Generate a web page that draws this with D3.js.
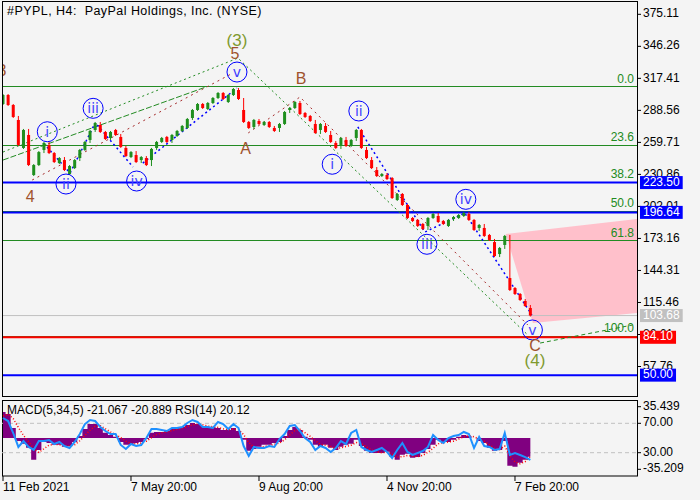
<!DOCTYPE html>
<html>
<head>
<meta charset="utf-8">
<script src="https://cdn.jsdelivr.net/npm/d3@7"></script>
<style>
  body { margin: 0; background: #f4f4f4; }
  svg { display: block; font-family: "Liberation Sans", Arial, sans-serif; }
</style>
</head>
<body>
<svg id="chart" width="700" height="500"></svg>
<script>
// price samples, one every ~5 px of the original H4 chart
const opens = [294.3, 302.4, 293.4, 279.9, 254.7, 266.4, 230.3, 239.3, 252.9, 257.4,
    250.1, 241.1, 243.8, 231.2, 236.6, 245.6, 252.9, 261.9, 270.9, 275.4,
    269.1, 263.7, 270.9, 264.6, 254.7, 246.5, 248.3, 243.8, 245.6, 243.8,
    254.7, 260.1, 264.6, 261.9, 265.5, 270.0, 272.7, 281.7, 288.9, 294.3,
    289.8, 295.2, 299.7, 304.2, 296.1, 302.4, 306.9, 288.9, 278.1, 273.6,
    279.0, 275.4, 278.1, 272.7, 272.7, 276.3, 288.9, 290.7, 295.2, 286.2,
    283.5, 276.3, 270.9, 274.5, 266.4, 259.2, 257.4, 261.9, 256.5, 263.7,
    270.9, 252.9, 243.8, 234.8, 229.4, 230.3, 227.6, 207.8, 213.2, 203.3,
    191.6, 189.8, 186.2, 184.4, 191.6, 193.4, 188.9, 184.4, 190.7, 191.6,
    193.4, 195.2, 189.8, 182.6, 182.6, 176.3, 169.9, 159.1, 167.3, 137.5,
    128.5, 123.1, 116.8, 110.5];
const closes = [302.4, 293.4, 282.6, 257.4, 270.9, 239.3, 239.3, 251.0, 259.2, 250.1,
    242.0, 245.6, 234.8, 238.4, 243.8, 252.9, 260.1, 270.0, 277.2, 269.1,
    262.8, 269.1, 266.4, 255.6, 247.4, 251.0, 242.0, 246.5, 239.3, 253.8,
    260.1, 263.7, 260.1, 266.4, 270.0, 274.5, 280.8, 288.9, 294.3, 290.7,
    295.2, 299.7, 304.2, 298.8, 302.4, 307.8, 298.8, 278.1, 272.7, 279.9,
    276.3, 278.1, 273.6, 270.0, 276.3, 287.1, 290.7, 296.1, 285.3, 282.6,
    279.0, 268.2, 276.3, 269.1, 260.1, 254.7, 263.7, 256.5, 261.9, 270.9,
    254.7, 245.6, 236.6, 229.4, 231.2, 226.7, 209.6, 213.2, 203.3, 191.6,
    188.9, 184.4, 181.7, 191.6, 195.2, 188.0, 186.2, 189.8, 192.5, 194.3,
    196.1, 189.8, 180.8, 185.3, 175.4, 171.8, 157.3, 164.6, 175.4, 126.7,
    123.1, 117.7, 112.3, 103.7];

const macd = [29.5, 27.2, 11.5, -3.2, -6.5, -11.0, -24.5, -13.3, -4.3, -5.4,
    -7.6, -7.6, -9.9, -8.8, -4.3, 2.5, 10.4, 16.0, 16.0, 11.5,
    5.9, 3.6, 1.4, -4.3, -7.6, -7.6, -5.4, -4.3, -0.9, 5.9,
    7.0, 7.0, 8.1, 10.4, 11.5, 12.6, 14.9, 17.1, 16.0, 13.7,
    11.5, 12.6, 11.5, 9.2, 9.2, 11.5, 8.1, -2.0, -14.4, -12.2,
    -9.9, -7.6, -7.6, -5.4, -4.3, 2.5, 9.2, 12.6, 9.2, 1.4,
    -2.0, -7.6, -9.9, -7.6, -11.0, -13.3, -9.9, -7.6, -6.5, -2.0,
    -8.8, -14.4, -16.7, -16.7, -16.7, -15.5, -21.2, -24.5, -18.9, -17.8,
    -22.3, -21.2, -16.7, -12.2, -7.6, -2.0, -4.3, -4.3, -2.0, 1.4,
    3.6, 2.5, 0.2, -3.2, -5.4, -11.0, -14.4, -13.3, -3.2, -31.3,
    -32.4, -27.9, -24.5, -21.1];
const signal = [25, 27, 22, 12, 3, -4, -12, -16, -12, -8,
    -7, -7.5, -8.5, -9, -7.5, -3, 3, 9, 13.5, 14,
    10.5, 7, 4, 0.5, -3.5, -6, -6.5, -5.5, -3.5, 0.5,
    4, 6, 7, 8.5, 10, 11.5, 13, 15, 15.8, 15,
    13.5, 12.8, 12, 10.5, 9.5, 10, 9.5, 4, -5, -10,
    -11, -9.5, -8.5, -7, -5.5, -2, 3.5, 8.5, 10, 6,
    2, -3, -7, -8, -9.5, -11.5, -11, -9.5, -8, -5,
    -6, -10, -13.5, -15.5, -16.5, -16, -18, -21.5, -21, -19.5,
    -20.5, -21, -19.5, -16, -11.5, -6.5, -5, -4.5, -3.5, -1,
    1.5, 2.5, 1.5, -1, -3.5, -7.5, -11.5, -13, -9, -20,
    -27, -29, -26.5, -20.9];
const rsi = [77.2, 73.1, 56.8, 37.8, 45.9, 37.8, 33.7, 45.9, 45.9, 47.3,
    41.8, 44.6, 39.1, 36.4, 44.6, 55.4, 69.0, 74.5, 73.1, 65.0,
    59.5, 55.4, 55.4, 40.5, 35.0, 41.8, 39.1, 40.5, 50.0, 62.2,
    62.2, 60.9, 59.5, 63.6, 63.6, 65.0, 70.4, 74.5, 71.8, 65.0,
    65.0, 63.6, 71.8, 69.0, 62.2, 69.0, 63.6, 39.1, 25.5, 37.8,
    36.4, 36.4, 39.1, 37.8, 48.6, 55.4, 66.3, 67.7, 59.5, 50.0,
    44.6, 33.7, 39.1, 36.4, 31.0, 36.4, 45.9, 41.8, 56.8, 60.9,
    37.8, 33.7, 31.0, 33.7, 36.4, 31.0, 22.8, 33.7, 43.2, 31.0,
    26.9, 29.6, 32.3, 37.8, 54.1, 47.3, 43.2, 50.0, 52.7, 54.1,
    58.2, 55.4, 36.4, 51.4, 39.1, 37.8, 33.7, 35.0, 56.8, 26.9,
    29.6, 26.9, 24.1, 20.1];

const priceTicks = [375.11, 346.26, 317.41, 288.56, 259.71, 230.86, 202.01, 173.16, 144.31, 115.46, 86.61, 57.76];
const dateTickIndex = [0, 25, 50, 75, 100];
const dateTickLabels = ["11 Feb 2021", "7 May 20:00", "9 Aug 20:00", "4 Nov 20:00", "7 Feb 20:00"];
const indTicks = [{ v: 35.439, s: "macd" }, { v: 70, s: "rsi" }, { v: 30, s: "rsi" }, { v: -35.209, s: "macd" }];

const fibLevels = [0, 23.6, 38.2, 50, 61.8, 100];
const fibHigh = 310.16, fibLow = 85.5;
const levelPrices = [223.50, 196.64, 103.68, 84.10, 50.00];
const levelKinds = ["blue", "blue", "gray", "red", "blue"];

// wave lines in [bar index, price]
const greenChannel = [[0, 251.0], [45.9, 335.7], [102.5, 86.2]];
const greenDashed = [[0, 243.8], [39.8, 309.9]];
const brownLines = [
    [[5.7, 225.8], [44.9, 322.2]],
    [[47.9, 268.2], [58.0, 300.6], [102.5, 95.2]]
];
const blueLines = [
    [[8.6, 255.6], [13.1, 232.1], [18.0, 277.2]],
    [[18.4, 275.4], [25.4, 237.5]],
    [[27.3, 241.1], [45.7, 308.7]],
    [[69.3, 273.6], [82.4, 178.9], [90.2, 196.1], [103.3, 104.2]]
];
const wave4Path = [[104.9, 78.9], [123.0, 95.2]];
const targetZone = [[98.2, 177.2], [123.83, 190.7], [123.83, 106.0], [103.5, 97.0]];

const circleLabels = [
    ["i", 8.65, 269.3], ["ii", 12.3, 222.2], ["iii", 17.6, 290.4], ["iv", 26.1, 224.9], ["v", 45.7, 323.1],
    ["i", 64.3, 240.0], ["ii", 69.5, 288.0], ["iii", 82.8, 167.9], ["iv", 90.4, 208.4], ["v", 103.4, 90.7]
];
const brownLabels = [["3", -0.2, 323.1], ["4", 5.3, 209.6], ["5", 45.3, 338.4], ["A", 47.4, 252.9], ["B", 58.2, 315.9], ["C", 103.9, 75.6]];
const bigLabels = [["(3)", 45.7, 350.2], ["(4)", 103.9, 62.1]];

const svg = d3.select("#chart");
const LEFT = 2, RIGHT = 637, TOP = 2, BOTTOM = 397;
const IND_TOP = 400.5, IND_BOTTOM = 476;

const x = d3.scaleLinear().domain([0, 123.83]).range([3, RIGHT]);
const y = d3.scaleLinear().domain([30.3, 386.2]).range([BOTTOM, TOP]);
const ym = d3.scaleLinear().domain([-35.209, 35.439]).range([469.3, 406.7]);
const yr = d3.scaleLinear().domain([30, 70]).range([452.7, 423.3]);

const colors = { blue: "#0000ff", red: "#ff0000", gray: "#c0c0c0" };
const FIB_GREEN = "#228b22";

svg.append("defs").append("clipPath").attr("id", "mainclip")
    .append("rect").attr("x", LEFT).attr("y", TOP).attr("width", RIGHT - LEFT).attr("height", BOTTOM - TOP);
svg.select("defs").append("clipPath").attr("id", "indclip")
    .append("rect").attr("x", LEFT).attr("y", IND_TOP).attr("width", RIGHT - LEFT).attr("height", IND_BOTTOM - IND_TOP);

var main = svg.append("g").attr("clip-path", "url(#mainclip)");

// target zone
main.append("path")
    .attr("d", d3.line().x(d => x(d[0])).y(d => y(d[1]))(targetZone) + "Z")
    .attr("fill", "#ffc0cb");

// fibonacci levels
fibLevels.forEach(function(lv) {
    var p = fibHigh - (fibHigh - fibLow) * lv / 100;
    main.append("line")
        .attr("x1", LEFT).attr("x2", RIGHT)
        .attr("y1", Math.round(y(p)) + 0.5).attr("y2", Math.round(y(p)) + 0.5)
        .attr("stroke", FIB_GREEN).attr("stroke-width", 1.2);
    main.append("text")
        .attr("x", RIGHT - 3).attr("y", y(p) - 7)
        .attr("text-anchor", "end").attr("dominant-baseline", "middle")
        .attr("font-size", 12).attr("fill", FIB_GREEN)
        .text(lv.toFixed(1));
});

// horizontal price levels
levelPrices.forEach(function(p, i) {
    main.append("line")
        .attr("x1", LEFT).attr("x2", RIGHT)
        .attr("y1", y(p)).attr("y2", y(p))
        .attr("stroke", colors[levelKinds[i]])
        .attr("stroke-width", levelKinds[i] == "gray" ? 1 : 2);
});

// dotted wave lines
const lineGen = d3.line().x(d => x(d[0])).y(d => y(d[1]));
main.append("path").attr("d", lineGen(greenChannel)).attr("fill", "none")
    .attr("stroke", FIB_GREEN).attr("stroke-width", 1).attr("stroke-dasharray", "2,3");
main.append("path").attr("d", lineGen(greenDashed)).attr("fill", "none")
    .attr("stroke", FIB_GREEN).attr("stroke-width", 1).attr("stroke-dasharray", "6,2");
brownLines.forEach(function(pts) {
    main.append("path").attr("d", lineGen(pts)).attr("fill", "none")
        .attr("stroke", "#a52a2a").attr("stroke-width", 1).attr("stroke-dasharray", "2,4");
});
blueLines.forEach(function(pts) {
    main.append("path").attr("d", lineGen(pts)).attr("fill", "none")
        .attr("stroke", "#0000ff").attr("stroke-width", 1.5).attr("stroke-dasharray", "2,3");
});
main.append("path").attr("d", lineGen(wave4Path)).attr("fill", "none")
    .attr("stroke", FIB_GREEN).attr("stroke-width", 1).attr("stroke-dasharray", "4,3");

// candles
const UP = "#1e8f1e", DOWN = "#ff0000";
var candles = main.append("g").selectAll("g")
    .data(closes)
    .join("g");
candles.append("line")
    .attr("x1", (d, i) => x(i)).attr("x2", (d, i) => x(i))
    .attr("y1", (d, i) => y(Math.max(opens[i], d, i > 0 ? closes[i - 1] : d)) - 1)
    .attr("y2", (d, i) => y(Math.min(opens[i], d, i > 0 ? closes[i - 1] : d)) + 1)
    .attr("stroke", (d, i) => d >= opens[i] ? UP : DOWN).attr("stroke-width", 1);
candles.append("rect")
    .attr("x", (d, i) => x(i) - 1.5)
    .attr("width", 3)
    .attr("y", (d, i) => y(Math.max(opens[i], d)))
    .attr("height", (d, i) => Math.max(1, Math.abs(y(opens[i]) - y(d))))
    .attr("fill", (d, i) => d >= opens[i] ? UP : DOWN);

// wave labels
circleLabels.forEach(function(l) {
    var g = main.append("g").attr("transform", "translate(" + x(l[1]) + "," + y(l[2]) + ")");
    g.append("circle").attr("r", 10).attr("fill", "none").attr("stroke", "#0000ff").attr("stroke-width", 1);
    g.append("text").attr("y", 1).attr("text-anchor", "middle").attr("dominant-baseline", "middle")
        .attr("font-family", "DejaVu Sans").attr("font-size", 14).attr("fill", "#4040ff").text(l[0]);
});
brownLabels.forEach(function(l) {
    main.append("text").attr("x", x(l[1])).attr("y", y(l[2]))
        .attr("text-anchor", "middle").attr("dominant-baseline", "middle")
        .attr("font-size", 16).attr("fill", "#a0522d").text(l[0]);
});
bigLabels.forEach(function(l) {
    main.append("text").attr("x", x(l[1])).attr("y", y(l[2]))
        .attr("text-anchor", "middle").attr("dominant-baseline", "middle")
        .attr("font-size", 17).attr("fill", "#7f9a2f").text(l[0]);
});

// title
svg.append("text").attr("x", 7).attr("y", 12)
    .attr("dominant-baseline", "middle").attr("font-size", 12.5)
    .style("white-space", "pre").style("letter-spacing", "0.45px")
    .text("#PYPL, H4:  PayPal Holdings, Inc. (NYSE)");

// frames
svg.append("rect").attr("x", LEFT + 0.5).attr("y", TOP - 0.5).attr("width", RIGHT - LEFT).attr("height", BOTTOM - TOP)
    .attr("fill", "none").attr("stroke", "#000");
svg.append("rect").attr("x", LEFT + 0.5).attr("y", IND_TOP).attr("width", RIGHT - LEFT).attr("height", IND_BOTTOM - IND_TOP)
    .attr("fill", "none").attr("stroke", "#000");

// price axis
var axis = svg.append("g");
priceTicks.forEach(function(p) {
    axis.append("line").attr("x1", RIGHT).attr("x2", RIGHT + 4).attr("y1", y(p)).attr("y2", y(p)).attr("stroke", "#000");
    axis.append("text").attr("x", RIGHT + 6).attr("y", y(p))
        .attr("dominant-baseline", "middle").attr("font-size", 12).text(p.toFixed(2));
});
levelPrices.forEach(function(p, i) {
    var t = axis.append("text").attr("x", RIGHT + 6).attr("y", y(p))
        .attr("dominant-baseline", "middle").attr("font-size", 12).attr("fill", "#fff").text(p.toFixed(2));
    var w = t.node().getComputedTextLength();
    axis.insert("rect", function() { return t.node(); })
        .attr("x", RIGHT + 3).attr("y", y(p) - 6.5).attr("width", w + 6).attr("height", 13)
        .attr("fill", colors[levelKinds[i]]);
});

// indicator panel
var ind = svg.append("g").attr("clip-path", "url(#indclip)");
[70, 30].forEach(function(v) {
    ind.append("line").attr("x1", LEFT).attr("x2", RIGHT).attr("y1", yr(v)).attr("y2", yr(v))
        .attr("stroke", "#c0c0c0").attr("stroke-dasharray", "4,3");
});
ind.append("path")
    .attr("d", d3.area().x((d, i) => x(i)).y0(ym(0)).y1(d => ym(d)).curve(d3.curveStep)(macd))
    .attr("fill", "#800080");
ind.append("path")
    .attr("d", d3.line().x((d, i) => x(i)).y(d => ym(d))(signal))
    .attr("fill", "none").attr("stroke", "#ff0000").attr("stroke-width", 1.5).attr("stroke-dasharray", "1,2");
ind.append("path")
    .attr("d", d3.line().x((d, i) => x(i)).y(d => yr(d))(rsi))
    .attr("fill", "none").attr("stroke", "#1e90ff").attr("stroke-width", 2);

svg.append("text").attr("x", 7).attr("y", 411)
    .attr("dominant-baseline", "middle").attr("font-size", 12)
    .text("MACD(5,34,5) -21.067 -20.889 RSI(14) 20.12");

indTicks.forEach(function(t) {
    var yy = t.s == "macd" ? ym(t.v) : yr(t.v);
    svg.append("line").attr("x1", RIGHT).attr("x2", RIGHT + 4).attr("y1", yy).attr("y2", yy).attr("stroke", "#000");
    svg.append("text").attr("x", RIGHT + 6).attr("y", yy)
        .attr("dominant-baseline", "middle").attr("font-size", 12)
        .text(t.s == "macd" ? t.v.toFixed(3) : t.v.toFixed(2));
});

// time axis
dateTickIndex.forEach(function(idx, i) {
    svg.append("line").attr("x1", x(idx)).attr("x2", x(idx)).attr("y1", IND_BOTTOM).attr("y2", IND_BOTTOM + 5).attr("stroke", "#000");
    svg.append("text").attr("x", x(idx)).attr("y", 488)
        .attr("dominant-baseline", "middle").attr("font-size", 12).text(dateTickLabels[i]);
});
</script>
</body>
</html>
